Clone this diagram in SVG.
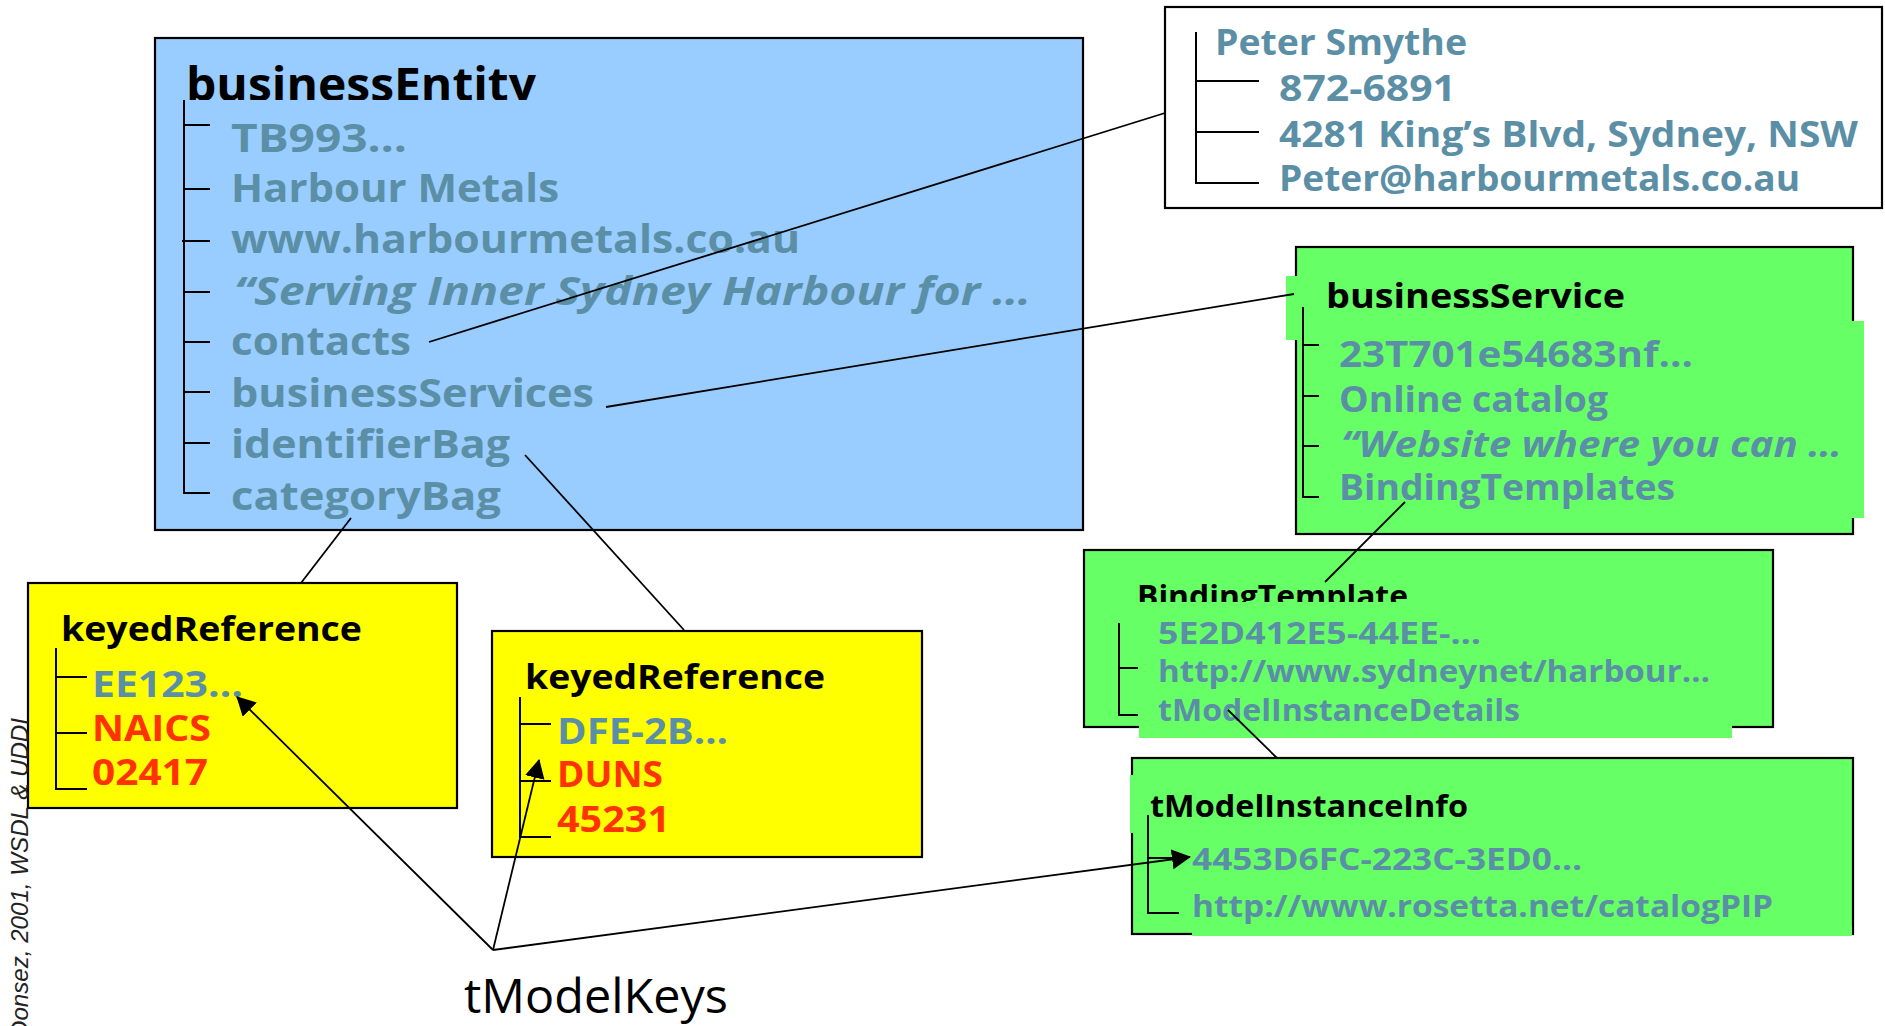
<svg xmlns="http://www.w3.org/2000/svg" width="1885" height="1026" viewBox="0 0 1885 1026">
<defs>
<marker id="ah" markerUnits="userSpaceOnUse" markerWidth="19" markerHeight="20" viewBox="0 0 19 20" refX="18" refY="10" orient="auto">
<path d="M0,0 L19,10 L0,20 z" fill="#000"/>
</marker>
</defs>
<style>
.box{stroke:#000;stroke-width:2.2}
.blue{fill:#99ccff}
.green{fill:#66ff66}
.yellow{fill:#ffff00}
.ttl{font-family:"Open Sans","DejaVu Sans",sans-serif;font-weight:700;fill:#000}
.it{font-family:"Open Sans","DejaVu Sans",sans-serif;font-weight:700;fill:#5b8fa6}
.red{fill:#ff3300}
.ital{font-style:italic}
.tree{stroke:#000;stroke-width:2;fill:none}
.conn{stroke:#000;stroke-width:1.8;fill:none}
</style>

<g id="businessEntity">
<rect class="box blue" x="155" y="38" width="928" height="492"/>
<text class="ttl" x="186" y="101" font-size="46" textLength="350" lengthAdjust="spacingAndGlyphs">businessEntity</text>
<rect class="blue" x="170" y="100" width="880" height="425"/>
<path class="tree" d="M184,100 V493 H210 M184,125 H210 M184,189 H210 M182,241 H210 M184,292 H210 M184,342 H210 M184,392 H210 M184,443 H210"/>
<g class="it" font-size="40">
<text x="231" y="152" textLength="176" lengthAdjust="spacingAndGlyphs">TB993…</text>
<text x="231" y="202" textLength="328" lengthAdjust="spacingAndGlyphs">Harbour Metals</text>
<text x="231" y="253" textLength="569" lengthAdjust="spacingAndGlyphs">www.harbourmetals.co.au</text>
<text class="ital" x="234" y="305" textLength="797" lengthAdjust="spacingAndGlyphs">“Serving Inner Sydney Harbour for …</text>
<text x="231" y="355" textLength="180" lengthAdjust="spacingAndGlyphs">contacts</text>
<text x="231" y="407" textLength="363" lengthAdjust="spacingAndGlyphs">businessServices</text>
<text x="231" y="458" textLength="279" lengthAdjust="spacingAndGlyphs">identifierBag</text>
<text x="231" y="510" textLength="270" lengthAdjust="spacingAndGlyphs">categoryBag</text>
</g>
</g>

<g id="contact">
<rect class="box" fill="#fff" x="1165" y="7" width="717" height="201"/>
<path class="tree" d="M1196,32 V183 H1259 M1196,81 H1259 M1196,132 H1259"/>
<g class="it" font-size="35">
<text x="1215" y="55" textLength="252" lengthAdjust="spacingAndGlyphs">Peter Smythe</text>
<text x="1279" y="101" textLength="177" lengthAdjust="spacingAndGlyphs">872-6891</text>
<text x="1279" y="147" textLength="579" lengthAdjust="spacingAndGlyphs">4281 King’s Blvd, Sydney, NSW</text>
<text x="1279" y="191" textLength="521" lengthAdjust="spacingAndGlyphs">Peter@harbourmetals.co.au</text>
</g>
</g>

<g id="businessService">
<rect class="box green" x="1296" y="247" width="557" height="287"/>
<rect class="green" x="1286" y="276" width="60" height="64"/>
<rect class="green" x="1298" y="321" width="566" height="197"/>
<text class="ttl" x="1326" y="308" font-size="34" textLength="299" lengthAdjust="spacingAndGlyphs">businessService</text>
<path class="tree" d="M1303,307 V497 H1319 M1303,345 H1319 M1303,396 H1319 M1303,446 H1319"/>
<g class="it" font-size="35">
<text x="1339" y="367" textLength="354" lengthAdjust="spacingAndGlyphs">23T701e54683nf…</text>
<text x="1339" y="412" textLength="269" lengthAdjust="spacingAndGlyphs">Online catalog</text>
<text class="ital" x="1341" y="457" textLength="501" lengthAdjust="spacingAndGlyphs">“Website where you can …</text>
<text x="1339" y="500" textLength="336" lengthAdjust="spacingAndGlyphs">BindingTemplates</text>
</g>
</g>

<g id="bindingTemplate">
<rect class="box green" x="1084" y="550" width="689" height="177"/>
<text class="ttl" x="1137" y="607" font-size="31" textLength="271" lengthAdjust="spacingAndGlyphs">BindingTemplate</text>
<rect class="green" x="1139" y="602" width="593" height="136"/>
<path class="tree" d="M1119,623 V715 H1138 M1119,668 H1138"/>
<g class="it" font-size="31">
<text x="1158" y="644" textLength="323" lengthAdjust="spacingAndGlyphs">5E2D412E5-44EE-…</text>
<text x="1158" y="682" textLength="552" lengthAdjust="spacingAndGlyphs">http://www.sydneynet/harbour…</text>
<text x="1158" y="721" textLength="362" lengthAdjust="spacingAndGlyphs">tModelInstanceDetails</text>
</g>
</g>

<g id="tModelInstanceInfo">
<rect class="box green" x="1132" y="758" width="721" height="176"/>
<rect class="green" x="1130" y="775" width="6" height="58"/>
<rect class="green" x="1192" y="926" width="660" height="10"/>
<text class="ttl" x="1150" y="817" font-size="31" textLength="318" lengthAdjust="spacingAndGlyphs">tModelInstanceInfo</text>
<path class="tree" d="M1148,815 V913 H1179 M1148,858 H1179"/>
<g class="it" font-size="31">
<text x="1192" y="870" textLength="390" lengthAdjust="spacingAndGlyphs">4453D6FC-223C-3ED0…</text>
<text x="1192" y="917" textLength="581" lengthAdjust="spacingAndGlyphs">http://www.rosetta.net/catalogPIP</text>
</g>
</g>

<g id="keyedReference1">
<rect class="box yellow" x="28" y="583" width="429" height="225"/>
<text class="ttl" x="61" y="641" font-size="34" textLength="301" lengthAdjust="spacingAndGlyphs">keyedReference</text>
<path class="tree" d="M56,648 V789 H87 M56,677 H87 M56,733 H87"/>
<g class="it" font-size="35">
<text x="92" y="697" textLength="151" lengthAdjust="spacingAndGlyphs">EE123…</text>
<text class="red" x="92" y="741" textLength="119" lengthAdjust="spacingAndGlyphs">NAICS</text>
<text class="red" x="92" y="785" textLength="116" lengthAdjust="spacingAndGlyphs">02417</text>
</g>
</g>

<g id="keyedReference2">
<rect class="box yellow" x="492" y="631" width="430" height="226"/>
<text class="ttl" x="525" y="689" font-size="34" textLength="300" lengthAdjust="spacingAndGlyphs">keyedReference</text>
<path class="tree" d="M520,697 V837 H551 M520,724 H551 M520,781 H551"/>
<g class="it" font-size="35">
<text x="557" y="744" textLength="171" lengthAdjust="spacingAndGlyphs">DFE-2B…</text>
<text class="red" x="557" y="787" textLength="106" lengthAdjust="spacingAndGlyphs">DUNS</text>
<text class="red" x="557" y="832" textLength="113" lengthAdjust="spacingAndGlyphs">45231</text>
</g>
</g>

<g id="tModelKeys">
<text x="464" y="1013" font-family="'Open Sans','Liberation Sans',sans-serif" font-size="47" fill="#000" textLength="264" lengthAdjust="spacingAndGlyphs">tModelKeys</text>
</g>

<g id="credit">
<text transform="translate(28,718) rotate(-90)" text-anchor="end" font-family="'Liberation Sans',Arial,sans-serif" font-style="italic" font-size="24" fill="#222" textLength="320" lengthAdjust="spacingAndGlyphs">Donsez, 2001, WSDL &amp; UDDI</text>
</g>

<g id="connectors">
<line class="conn" x1="429" y1="342" x2="1165" y2="113"/>
<line class="conn" x1="606" y1="407" x2="1294" y2="294"/>
<line class="conn" x1="525" y1="455" x2="684" y2="630"/>
<line class="conn" x1="351" y1="518" x2="301" y2="583"/>
<line class="conn" x1="1405" y1="502" x2="1325" y2="582"/>
<line class="conn" x1="1228" y1="710" x2="1277" y2="758"/>
<line class="conn" x1="493" y1="950" x2="237" y2="697" marker-end="url(#ah)"/>
<line class="conn" x1="493" y1="950" x2="539" y2="760" marker-end="url(#ah)"/>
<line class="conn" x1="493" y1="950" x2="1190" y2="857" marker-end="url(#ah)"/>
</g>
</svg>
